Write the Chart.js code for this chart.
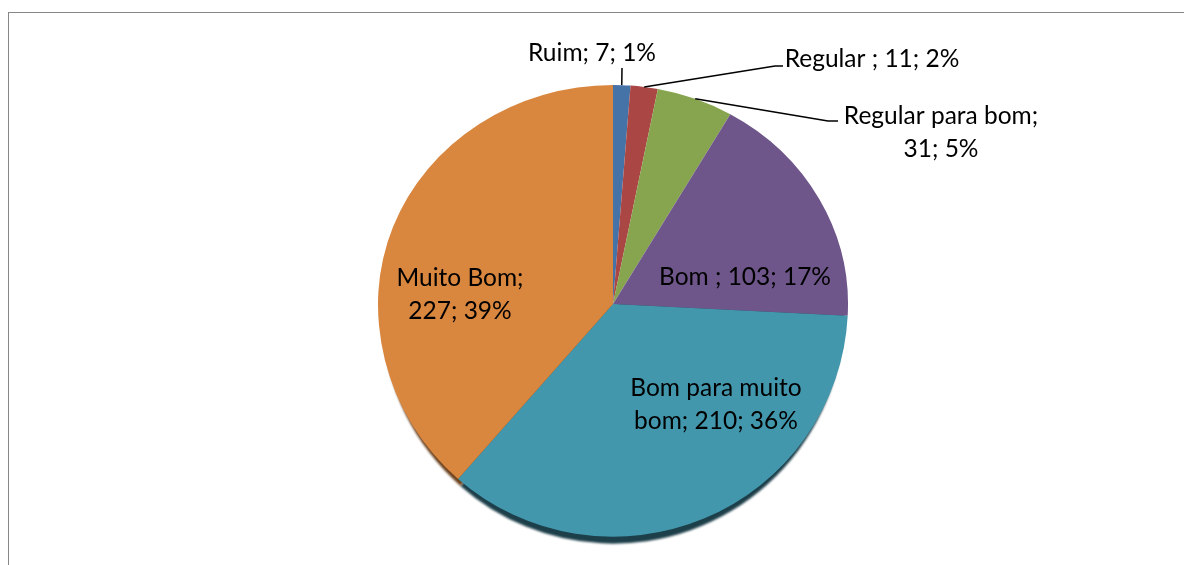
<!DOCTYPE html>
<html>
<head>
<meta charset="utf-8">
<script src="https://cdn.jsdelivr.net/npm/chart.js@4/dist/chart.umd.min.js"></script>
<style>
  body { margin: 0; background: #fff; }
  #frame { position: absolute; left: 8px; top: 12px; right: 0; bottom: 0; border-top: 1px solid #878787; border-left: 1px solid #878787; }
  #c { position: absolute; left: 0; top: 0; }
</style>
</head>
<body>
<div id="frame"></div>
<canvas id="c" width="1184" height="565"></canvas>
<script>
const categories = ['Ruim', 'Regular ', 'Regular para bom', 'Bom ', 'Bom para muito bom', 'Muito Bom'];
const values = [7, 11, 31, 103, 210, 227];
const colors = ['#4572a7', '#aa4643', '#87a54f', '#6e568a', '#4397ad', '#d9863f'];
const shadowColors = ['#233a55', '#552321', '#44532a', '#372b45', '#1d3f4a', '#6d431f'];

// label layout: text centre, words on first line, optional leader (elbow points)
const labelLayout = [
  { x: 592, y: 53, firstWords: 0, leader: [[622, 68]] },
  { x: 872, y: 59, firstWords: 0, leader: [[775, 66], [783, 66]] },
  { x: 941, y: 116, firstWords: 3, leader: [[828, 121], [838, 121]] },
  { x: 745, y: 277, firstWords: 0 },
  { x: 716, y: 388, firstWords: 3 },
  { x: 460, y: 278, firstWords: 2 }
];
// tilt: upper half flatter than lower half
const squashTop = 0.932;
const squashBottom = 0.99;
const lineGap = 33;

const total = values.reduce((a, b) => a + b, 0);

function labelLines(i) {
  const txt = categories[i] + '; ' + values[i] + '; ' + Math.round(values[i] / total * 100) + '%';
  const n = labelLayout[i].firstWords;
  if (!n) return [txt];
  const words = txt.split(' ');
  return [words.slice(0, n).join(' '), words.slice(n).join(' ')];
}

function half(ctx, chart, cx, cy, upper, sy) {
  ctx.beginPath();
  if (upper) ctx.rect(0, 0, chart.width, cy);
  else ctx.rect(0, cy, chart.width, chart.height - cy);
  ctx.clip();
  ctx.translate(cx, cy);
  ctx.scale(1, sy);
  ctx.translate(-cx, -cy);
}

const pie3d = {
  id: 'pie3d',
  beforeDatasetsDraw(chart) {
    const ctx = chart.ctx;
    const arcs = chart.getDatasetMeta(0).data;
    const cx = arcs[0].x, cy = arcs[0].y;
    // shadow under the lower half
    ctx.save();
    half(ctx, chart, cx, cy, false, squashBottom);
    ctx.translate(cx, 0);
    ctx.scale(0.985, 1);
    ctx.translate(-cx, 0);
    ctx.filter = 'blur(1px)';
    arcs.forEach((a, i) => {
      const dy = 7 / squashBottom;
      ctx.beginPath();
      ctx.moveTo(a.x, a.y + dy);
      ctx.arc(a.x, a.y + dy, a.outerRadius, a.startAngle, a.endAngle);
      ctx.closePath();
      ctx.fillStyle = shadowColors[i];
      ctx.fill();
    });
    ctx.restore();
    // chart draws the upper half
    ctx.save();
    half(ctx, chart, cx, cy, true, squashTop);
  },
  afterDatasetsDraw(chart) {
    const ctx = chart.ctx;
    const arcs = chart.getDatasetMeta(0).data;
    const cx = arcs[0].x, cy = arcs[0].y;
    ctx.restore();
    // lower half
    ctx.save();
    half(ctx, chart, cx, cy, false, squashBottom);
    arcs.forEach(a => a.draw(ctx));
    ctx.restore();

    ctx.save();
    ctx.font = '24.5px Lato';
    ctx.fillStyle = '#000';
    ctx.textAlign = 'center';
    ctx.textBaseline = 'middle';
    arcs.forEach((a, i) => {
      const lay = labelLayout[i];
      labelLines(i).forEach((ln, k) => ctx.fillText(ln, lay.x, lay.y + k * lineGap));
      if (lay.leader) {
        const mid = (a.startAngle + a.endAngle) / 2;
        const s = Math.sin(mid);
        const px = a.x + a.outerRadius * Math.cos(mid);
        const py = a.y + a.outerRadius * s * (s < 0 ? squashTop : squashBottom);
        ctx.beginPath();
        ctx.moveTo(px, py);
        lay.leader.forEach(p => ctx.lineTo(p[0], p[1]));
        ctx.strokeStyle = '#000';
        ctx.lineWidth = 1.5;
        ctx.stroke();
      }
    });
    ctx.restore();
  }
};

new Chart(document.getElementById('c'), {
  type: 'pie',
  data: {
    labels: categories,
    datasets: [{
      data: values,
      backgroundColor: colors,
      borderWidth: 0
    }]
  },
  options: {
    responsive: false,
    animation: false,
    layout: { padding: { left: 42, right: 0, top: 69, bottom: 26 } },
    plugins: {
      legend: { display: false },
      tooltip: { enabled: false }
    }
  },
  plugins: [pie3d]
});
</script>
</body>
</html>
